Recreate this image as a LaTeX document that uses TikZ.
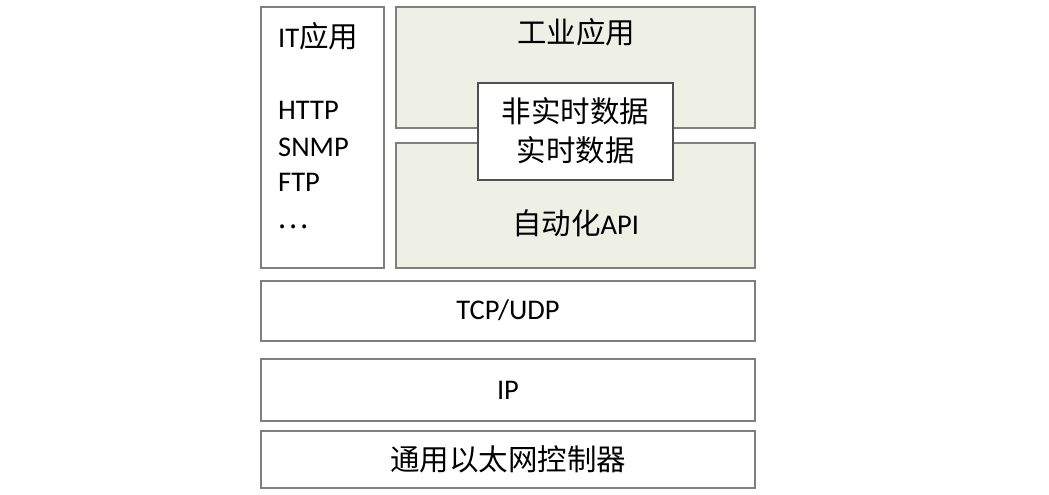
\documentclass[tikz,border=0pt]{standalone}
\usepackage{fontspec}
\setmainfont{Carlito}
\newfontfamily\cjk{Noto Sans CJK SC}
\newcommand{\zh}[1]{{\cjk\fontsize{29.5}{36}\selectfont #1}}
\definecolor{boxline}{HTML}{7F7F7F}
\definecolor{innerline}{HTML}{505050}
\definecolor{greenfill}{HTML}{EEF0E6}
\tikzset{
  layer/.style={draw=boxline, line width=1.3pt, fill=white},
  greenbox/.style={draw=boxline, line width=1.3pt, fill=greenfill},
  innerbox/.style={draw=innerline, line width=1.3pt, fill=white},
  lbl/.style={font=\fontsize{28.5}{36}\selectfont, inner sep=0pt},
  itlbl/.style={lbl, anchor=base west}
}
\begin{document}
\begin{tikzpicture}[x=1pt,y=-1pt]
\useasboundingbox (0,0) rectangle (1049,495);
% boxes
\draw[layer] (261,7) rectangle (384,268);
\draw[greenbox] (396,7) rectangle (755,128);
\draw[greenbox] (396,143) rectangle (755,268);
\draw[innerbox] (478,83) rectangle (673,180);
\draw[layer] (261,281) rectangle (755,341);
\draw[layer] (261,359) rectangle (755,421);
\draw[layer] (261,431) rectangle (755,488);
% texts
\node[itlbl] (it) at (278,47.5) {IT\zh{应用}};
\node[itlbl] (http) at (278,119.5) {HTTP};
\node[itlbl] (snmp) at (278,156) {SNMP};
\node[itlbl] (ftp) at (278,191.5) {FTP};
\node[itlbl] (dots) at (277,228) {\zh{…}};
\node[lbl] (ind) at (576,32) {\zh{工业应用}};
\node[lbl] (nrt) at (575.5,111) {\zh{非实时数据}};
\node[lbl] (rt) at (575.5,150.5) {\zh{实时数据}};
\node[lbl] (api) at (575.5,223) {\zh{自动化}API};
\node[lbl] (tcp) at (508,310) {TCP/UDP};
\node[lbl] (ip) at (508,390) {IP};
\node[lbl] (eth) at (508,459.5) {\zh{通用以太网控制器}};
\end{tikzpicture}
\end{document}
